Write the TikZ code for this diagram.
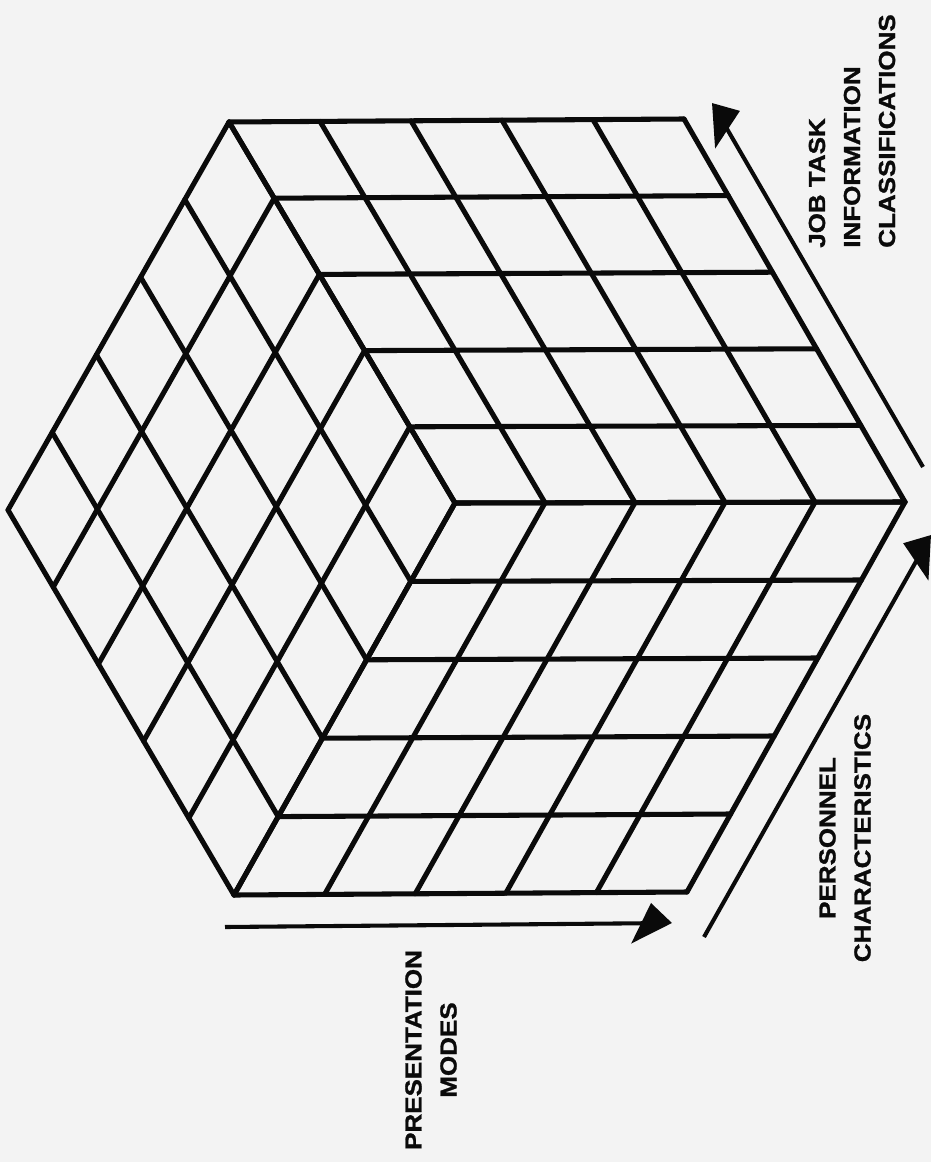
\documentclass[tikz,border=0pt]{standalone}
\usepackage{fontspec}
\newfontfamily\labelfont[FakeStretch=1.12, BoldFeatures={FakeBold=1.2}]{Liberation Sans}
\usepackage{tikz}
\usetikzlibrary{arrows.meta,calc}
\definecolor{paper}{HTML}{F3F3F3}
\definecolor{inkline}{HTML}{0A0A0A}

\begin{document}
\begin{tikzpicture}[
    x=0.025cm, y=-0.025cm,
    grid/.style={line width=3.6pt, color=inkline, line cap=round},
    axisarrow/.style={-{Triangle[length=22pt, width=28pt, slant=#1]}, line width=2.9pt, color=inkline},
    axislabel/.style={rotate=90, inner sep=0pt, text=inkline, font=\labelfont\bfseries\fontsize{16.5}{24.9}\selectfont}
]
    % --- PAGE ---
    \fill[paper] (0,0) rectangle (931,1162);
    \useasboundingbox (0,0) rectangle (931,1162);

    % --- CUBE CORNERS ---
    \coordinate (A) at (229,122);
    \coordinate (B) at (684,119);
    \coordinate (C) at (905,502);
    \coordinate (D) at (687,892);
    \coordinate (E) at (234,895);
    \coordinate (F) at (8,510);
    \coordinate (G) at (455,503);

    % --- CUBE FACES, 5 x 5 CELLS EACH ---
    \foreach \i [evaluate=\i as \f using \i/5] in {0,...,5} {
        % upper face
        \draw[grid] ($(A)!\f!(B)$) -- ($(G)!\f!(C)$);
        \draw[grid] ($(A)!\f!(G)$) -- ($(B)!\f!(C)$);
        % left face
        \draw[grid] ($(A)!\f!(F)$) -- ($(G)!\f!(E)$);
        \draw[grid] ($(A)!\f!(G)$) -- ($(F)!\f!(E)$);
        % lower face
        \draw[grid] ($(G)!\f!(C)$) -- ($(E)!\f!(D)$);
        \draw[grid] ($(G)!\f!(E)$) -- ($(C)!\f!(D)$);
    }

    % --- AXIS ARROWS ---
    \coordinate (jobtail) at (923,467);
    \coordinate (jobtip) at (712,103);
    \draw[axisarrow=-0.5] (jobtail) -- (jobtip);

    \coordinate (perstail) at (704,937);
    \coordinate (perstip) at (931,535);
    \draw[axisarrow=0.5] (perstail) -- (perstip);

    \coordinate (prestail) at (225,927);
    \coordinate (prestip) at (672,923);
    \draw[axisarrow=0.5] (prestail) -- (prestip);

    % --- AXIS LABELS ---
    \node[axislabel, anchor=west, align=left] (jobtask) at (852,248) {JOB TASK\\INFORMATION\\CLASSIFICATIONS};
    \node[axislabel, align=center] (personnel) at (845,838) {PERSONNEL\\CHARACTERISTICS};
    \node[axislabel, align=center] (presentation) at (431,1050) {PRESENTATION\\MODES};
\end{tikzpicture}
\end{document}
